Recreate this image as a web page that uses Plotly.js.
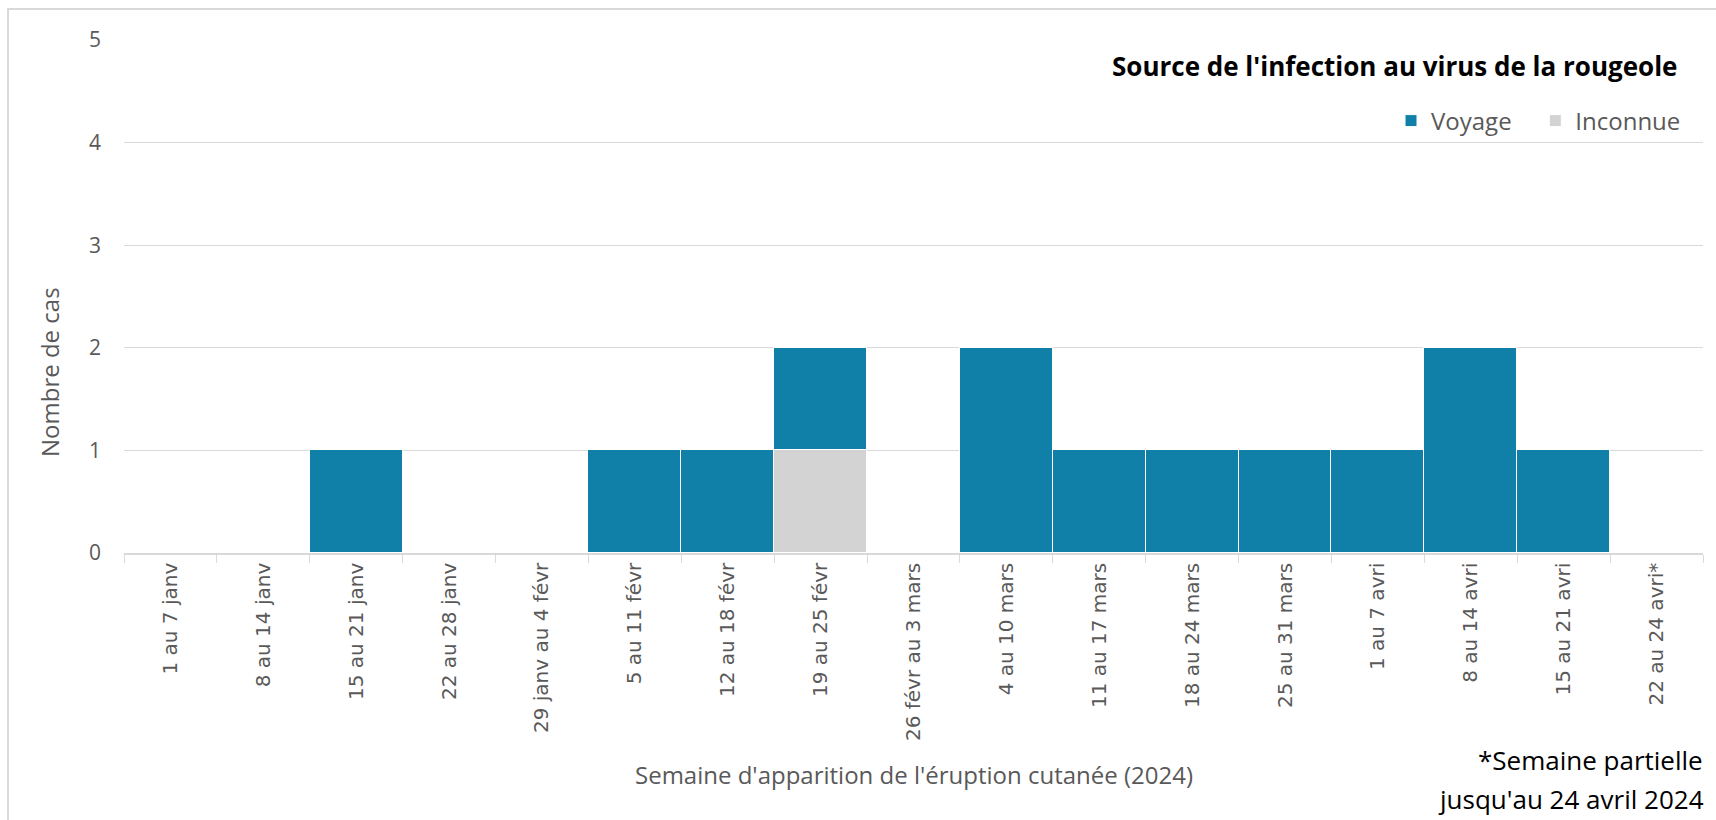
<!DOCTYPE html>
<html>
<head>
<meta charset="utf-8">
<script src="https://cdn.plot.ly/plotly-3.0.1.min.js"></script>
<style>
  html, body { margin: 0; padding: 0; background: #ffffff; }
  #frame { position: absolute; left: 7px; top: 8px; width: 1760px; height: 860px; border: 2px solid #d9d9d9; box-sizing: border-box; }
  #chart { position: absolute; left: 0; top: 0; width: 1716px; height: 820px; }
</style>
</head>
<body>
<div id="frame"></div>
<div id="chart"></div>
<script>
const weeks = [
  "1 au 7 janv", "8 au 14 janv", "15 au 21 janv", "22 au 28 janv", "29 janv au 4 févr",
  "5 au 11 févr", "12 au 18 févr", "19 au 25 févr", "26 févr au 3 mars", "4 au 10 mars",
  "11 au 17 mars", "18 au 24 mars", "25 au 31 mars", "1 au 7 avri", "8 au 14 avri",
  "15 au 21 avri", "22 au 24 avri*"
];
const voyage   = [0, 0, 1, 0, 0, 1, 1, 1, 0, 2, 1, 1, 1, 1, 2, 1, 0];
const inconnue = [0, 0, 0, 0, 0, 0, 0, 1, 0, 0, 0, 0, 0, 0, 0, 0, 0];
const yTicks = [0, 1, 2, 3, 4, 5];

const W = 1716, H = 820;
const L = 124, R = 1703, T = 40, B = 553;
const px = x => (x - L) / (R - L);
const py = y => (B - y) / (B - T);

const traces = [
  { type: 'bar', name: 'Inconnue', x: weeks, y: inconnue,
    marker: { color: '#d3d3d3', line: { color: '#ffffff', width: 1 } },
    legendrank: 2, hoverinfo: 'x+y+name' },
  { type: 'bar', name: 'Voyage\u00a0\u00a0\u00a0', x: weeks, y: voyage,
    marker: { color: '#1180a9', line: { color: '#ffffff', width: 1 } },
    legendrank: 1, hoverinfo: 'x+y+name' }
];

const layout = {
  width: W, height: H,
  margin: { l: L, r: W - R, t: T, b: H - B, pad: 0 },
  paper_bgcolor: 'rgba(0,0,0,0)', plot_bgcolor: 'rgba(0,0,0,0)',
  barmode: 'stack', bargap: 0.0,
  font: { family: 'Open Sans, sans-serif', color: '#595959' },
  showlegend: true,
  legend: {
    orientation: 'h', xref: 'paper', yref: 'paper',
    x: px(1686), y: py(121), xanchor: 'right', yanchor: 'middle',
    font: { size: 24, color: '#595959', family: 'Open Sans, sans-serif' },
    traceorder: 'normal', itemwidth: 30, bgcolor: 'rgba(0,0,0,0)'
  },
  xaxis: {
    type: 'category', tickangle: -90,
    tickfont: { size: 20, color: '#595959', family: 'DejaVu Sans, sans-serif' },
    showline: true, linecolor: '#d9d9d9', linewidth: 1.5,
    ticks: 'outside', tickson: 'boundaries', ticklen: 8, tickcolor: '#d9d9d9',
    showgrid: false, fixedrange: true
  },
  yaxis: {
    range: [0, 5], tickvals: yTicks, ticktext: yTicks.map(String),
    tickfont: { size: 21, color: '#595959', family: 'Open Sans, sans-serif' },
    showgrid: true, gridcolor: '#d9d9d9', gridwidth: 1.2,
    zeroline: false, showline: false, ticks: '', ticklabelstandoff: 22,
    fixedrange: true
  },
  annotations: [
    { text: "<b>Source de l'infection au virus de la rougeole</b>", xref: 'paper', yref: 'paper',
      x: px(1679), y: py(66), xanchor: 'right', yanchor: 'middle', showarrow: false,
      font: { size: 26, color: '#000000', family: 'Open Sans, sans-serif' } },
    { text: 'Nombre de cas', xref: 'paper', yref: 'paper', textangle: -90,
      x: px(49), y: py(372), xanchor: 'center', yanchor: 'middle', showarrow: false,
      font: { size: 24, color: '#595959', family: 'Open Sans, sans-serif' } },
    { text: "Semaine d'apparition de l'éruption cutanée (2024)", xref: 'paper', yref: 'paper',
      x: px(914), y: py(775), xanchor: 'center', yanchor: 'middle', showarrow: false,
      font: { size: 24, color: '#595959', family: 'Open Sans, sans-serif' } },
    { text: '*Semaine partielle', xref: 'paper', yref: 'paper',
      x: px(1476), y: py(760), xanchor: 'left', yanchor: 'middle', showarrow: false,
      font: { size: 26, color: '#000000', family: 'Open Sans, sans-serif' } },
    { text: "jusqu'au 24 avril 2024", xref: 'paper', yref: 'paper',
      x: px(1436), y: py(799), xanchor: 'left', yanchor: 'middle', showarrow: false,
      font: { size: 26, color: '#000000', family: 'Open Sans, sans-serif' } }
  ]
};

Plotly.newPlot('chart', traces, layout, { displayModeBar: false, responsive: false });
</script>
</body>
</html>
